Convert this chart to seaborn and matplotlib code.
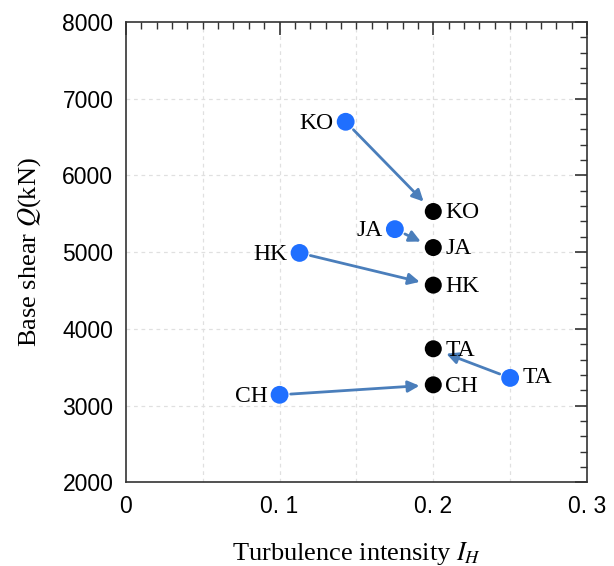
import matplotlib
matplotlib.use('Agg')
import matplotlib.pyplot as plt
import seaborn as sns
import pandas as pd

# data
sites = ['KO', 'JA', 'HK', 'TA', 'CH']
ih_before = [0.143, 0.175, 0.113, 0.250, 0.100]
q_before = [6700, 5300, 4990, 3360, 3140]
ih_after = [0.200, 0.200, 0.200, 0.200, 0.200]
q_after = [5530, 5060, 4570, 3740, 3270]

x_ticks = [0, 0.1, 0.2, 0.3]
x_tick_labels = ['0', '0. 1', '0. 2', '0. 3']
y_ticks = [2000, 3000, 4000, 5000, 6000, 7000, 8000]

sns.set_style('white')
plt.rcParams['font.family'] = ['Liberation Serif', 'DejaVu Serif']
plt.rcParams['mathtext.fontset'] = 'stix'
plt.rcParams['text.color'] = 'black'
plt.rcParams['axes.labelcolor'] = 'black'

df = pd.DataFrame({
    'site': sites * 2,
    'ih': ih_before + ih_after,
    'q': q_before + q_after,
    'state': ['before'] * len(sites) + ['after'] * len(sites),
})

fig = plt.figure(figsize=(6.14, 5.66), dpi=100)
ax = fig.add_axes([0.205, 0.148, 0.751, 0.813])

# arrows first so dots sit on top
for x0, y0, x1, y1 in zip(ih_before, q_before, ih_after, q_after):
    ax.annotate('', xy=(x1, y1), xytext=(x0, y0),
                arrowprops=dict(arrowstyle='-|>', color='#4a7ebb', lw=2.0,
                                mutation_scale=17, shrinkA=8, shrinkB=10))

sns.scatterplot(data=df, x='ih', y='q', hue='state', size='state',
                hue_order=['before', 'after'],
                palette={'before': '#1f6fff', 'after': 'black'},
                sizes={'before': 165, 'after': 150},
                linewidth=0, legend=False, ax=ax, zorder=5)

# point labels
for s, x, y in zip(sites, ih_before, q_before):
    if s == 'TA':
        ax.annotate(s, (x, y), xytext=(9, 0), textcoords='offset points',
                    ha='left', va='center', fontsize=17)
    else:
        ax.annotate(s, (x, y), xytext=(-8.5, -1), textcoords='offset points',
                    ha='right', va='center', fontsize=17)
for s, x, y in zip(sites, ih_after, q_after):
    ax.annotate(s, (x, y), xytext=(8.5, -1), textcoords='offset points',
                ha='left', va='center', fontsize=17)

tick_font = ['Liberation Sans Narrow', 'Liberation Sans']
ax.set_xlim(0, 0.3)
ax.set_ylim(2000, 8000)
ax.set_xticks(x_ticks)
ax.set_xticklabels(x_tick_labels, family=tick_font, fontsize=16.5, color='black')
ax.set_yticks(y_ticks)
ax.set_yticklabels([str(v) for v in y_ticks], family=tick_font, fontsize=16.5, color='black')
ax.set_xticks([i * 0.01 for i in range(31)], minor=True)
ax.set_yticks(list(range(2000, 8001, 200)), minor=True)

ax.tick_params(which='both', direction='in', top=True, right=True, color='#333333')
ax.tick_params(which='major', length=9, width=1.2, pad=9)
ax.tick_params(which='minor', length=5, width=1.0)

for x in [0.05, 0.1, 0.15, 0.2, 0.25]:
    ax.axvline(x, color='#e0e0e0', ls=(0, (3, 3)), lw=0.9, zorder=0)
for y in [3000, 4000, 5000, 6000, 7000]:
    ax.axhline(y, color='#e0e0e0', ls=(0, (3, 3)), lw=0.9, zorder=0)

for sp in ax.spines.values():
    sp.set_color('#333333')
    sp.set_linewidth(1.2)

ax.set_xlabel('Turbulence intensity $I_H$', fontsize=19, labelpad=16)
ax.set_ylabel('Base shear $Q$(kN)', fontsize=19, labelpad=14)

fig.savefig('out.png', dpi=100)
